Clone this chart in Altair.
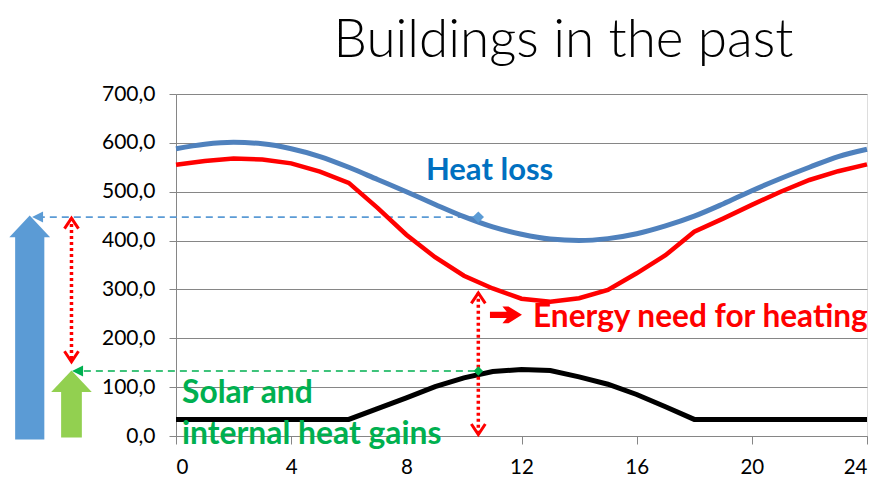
import altair as alt
import pandas as pd

# ---------------- data ----------------
hours = list(range(25))
heat_loss = [588, 597, 601, 598, 588, 572, 550, 525, 500, 474, 449, 428, 413,
             403, 400, 404, 414, 430, 450, 475, 502, 527, 550, 572, 587]
energy_need = [555, 563, 568, 566, 558, 541, 518, 467, 412, 366, 328, 302, 281,
               275, 282, 299, 333, 370, 418, 445, 473, 500, 524, 542, 556]
heat_gains = [34, 34, 34, 34, 34, 34, 34, 56, 78, 101, 119, 132, 136,
              134, 121, 106, 85, 60, 34, 34, 34, 34, 34, 34, 34]

x_ticks = [0, 4, 8, 12, 16, 20, 24]
y_ticks = [0, 100, 200, 300, 400, 500, 600, 700]

title_text = "Buildings in the past"
label_loss = "Heat loss"
label_need = "Energy need for heating"
label_gains = ["Solar and", "internal heat gains"]

# annotation anchors (hours / W values)
marker_hour = 10.5
marker_loss = 448
marker_gain = 133
loss_arrow_x = -5.08
gain_arrow_x = -3.63

# ---------------- helpers ----------------
X = alt.X("x:Q", scale=alt.Scale(domain=[0, 24], nice=False, zero=False),
          axis=alt.Axis(values=x_ticks, title=None, grid=False, tickSize=8,
                        labelPadding=13, labelFontSize=20.5, labelFont="Lato",
                        labelColor="black", domainColor="#868686",
                        tickColor="#868686"))
Y = alt.Y("y:Q", scale=alt.Scale(domain=[0, 700], nice=False),
          axis=alt.Axis(values=y_ticks, title=None, grid=True, tickSize=7,
                        labelPadding=14, labelFontSize=21, labelFont="Lato",
                        labelColor="black", gridColor="#868686",
                        domainColor="#868686", tickColor="#868686",
                        labelExpr="replace(format(datum.value, '.1f'), '.', ',')"))


def df(**cols):
    return pd.DataFrame(cols)


HEAD_UP = "M-1,0L1,0L0,-1.06Z"
CHEV_UP = "M-1,1.5L0,0L1,1.5"
CHEV_DOWN = "M-1,-1.5L0,0L1,-1.5"
TRI_LEFT = "M0,0L2,-1L2,1Z"
BOLD_RIGHT = ("M-1,-0.2L0.05,-0.2L-0.22,-0.52L0.16,-0.52L1,0L0.16,0.52"
              "L-0.22,0.52L0.05,0.2L-1,0.2Z")

# dashed guide lines
blue_dash = alt.Chart(df(x=[-4.8], x2=[marker_hour], y=[marker_loss])).mark_rule(
    color="#5B9BD5", strokeDash=[7, 5], strokeWidth=1.6).encode(x=X, x2="x2:Q", y=Y)
green_dash = alt.Chart(df(x=[-3.2], x2=[marker_hour], y=[marker_gain])).mark_rule(
    color="#00B050", strokeDash=[7, 5], strokeWidth=1.6).encode(x=X, x2="x2:Q", y=Y)

# series
loss_line = alt.Chart(df(x=hours, y=heat_loss)).mark_line(
    color="#4F81BD", strokeWidth=5, interpolate="monotone").encode(x=X, y=Y)
need_line = alt.Chart(df(x=hours, y=energy_need)).mark_line(
    color="#FF0000", strokeWidth=4.5).encode(x=X, y=Y)
gain_line = alt.Chart(df(x=hours, y=heat_gains)).mark_line(
    color="black", strokeWidth=5).encode(x=X, y=Y)

# red dotted double arrows
dotted = alt.Chart(df(x=[gain_arrow_x, marker_hour], y=[446, 293], y2=[152, 3])).mark_rule(
    color="#FF0000", strokeDash=[3, 3], strokeWidth=3.5).encode(x=X, y=Y, y2="y2:Q")
chev_up = alt.Chart(df(x=[gain_arrow_x, marker_hour], y=[446, 293])).mark_point(
    shape=CHEV_UP, size=196, filled=False, color="#FF0000", strokeWidth=3,
    opacity=1).encode(x=X, y=Y)
chev_down = alt.Chart(df(x=[gain_arrow_x, marker_hour], y=[152, 3])).mark_point(
    shape=CHEV_DOWN, size=196, filled=False, color="#FF0000", strokeWidth=3,
    opacity=1).encode(x=X, y=Y)

# block arrows on the left
loss_shaft = alt.Chart(df(x=[loss_arrow_x - 0.507], x2=[loss_arrow_x + 0.507],
                          y=[-7], y2=[408])).mark_rect(color="#5B9BD5").encode(
    x=X, x2="x2:Q", y=Y, y2="y2:Q")
loss_head = alt.Chart(df(x=[loss_arrow_x], y=[407])).mark_point(
    shape=HEAD_UP, size=1665, filled=True, color="#5B9BD5", opacity=1,
    strokeWidth=0).encode(x=X, y=Y)
gain_shaft = alt.Chart(df(x=[gain_arrow_x - 0.36], x2=[gain_arrow_x + 0.36],
                          y=[-3], y2=[91])).mark_rect(color="#92D050").encode(
    x=X, x2="x2:Q", y=Y, y2="y2:Q")
gain_head = alt.Chart(df(x=[gain_arrow_x], y=[90])).mark_point(
    shape=HEAD_UP, size=1650, filled=True, color="#92D050", opacity=1,
    strokeWidth=0).encode(x=X, y=Y)

# small arrow heads on dashed lines
blue_tri = alt.Chart(df(x=[-5.0], y=[marker_loss])).mark_point(
    shape=TRI_LEFT, size=121, filled=True, color="#5B9BD5", opacity=1,
    strokeWidth=0).encode(x=X, y=Y)
green_tri = alt.Chart(df(x=[-3.61], y=[marker_gain])).mark_point(
    shape=TRI_LEFT, size=121, filled=True, color="#00B050", opacity=1,
    strokeWidth=0).encode(x=X, y=Y)

# diamonds
blue_diamond = alt.Chart(df(x=[marker_hour], y=[marker_loss])).mark_point(
    shape="diamond", size=130, filled=True, color="#5B9BD5", opacity=1).encode(x=X, y=Y)
green_diamond = alt.Chart(df(x=[marker_hour], y=[marker_gain])).mark_point(
    shape="diamond", size=90, filled=True, color="#00B050", opacity=1).encode(x=X, y=Y)

# bold red arrow before the label
red_arrow = alt.Chart(df(x=[11.46], y=[248])).mark_point(
    shape=BOLD_RIGHT, size=1024, filled=True, color="#FF0000", opacity=1,
    strokeWidth=0).encode(x=X, y=Y)

# labels
txt_loss = alt.Chart(df(x=[8.68], y=[525], t=[label_loss])).mark_text(
    font="Lato", fontWeight="bold", fontSize=31, color="#0070C0",
    align="left", baseline="alphabetic").encode(x=X, y=Y, text="t:N")
txt_need = alt.Chart(df(x=[12.4], y=[223], t=[label_need])).mark_text(
    font="Lato", fontWeight="bold", fontSize=31.6, color="#FF0000",
    align="left", baseline="alphabetic").encode(x=X, y=Y, text="t:N")
txt_gain = alt.Chart(df(x=[0.21, 0.21], y=[68, -15.5], t=label_gains)).mark_text(
    font="Lato", fontWeight="bold", fontSize=31.8, color="#00B050",
    align="left", baseline="alphabetic").encode(x=X, y=Y, text="t:N")

chart = alt.layer(
    blue_dash, green_dash,
    loss_line, need_line, gain_line,
    dotted, chev_up, chev_down,
    loss_shaft, loss_head, gain_shaft, gain_head,
    blue_tri, green_tri,
    blue_diamond, green_diamond,
    red_arrow,
    txt_loss, txt_need, txt_gain,
).properties(
    width=691,
    height=342,
    title=alt.Title(title_text, font="Lato", fontSize=53, fontWeight=300,
                    color="black", anchor="middle", frame="group", dx=42,
                    offset=15),
    autosize=alt.AutoSizeParams(type="none"),
    padding={"left": 168, "top": 86, "right": 8, "bottom": 40},
).configure_view(stroke=None).configure(background="white")

chart.save("out.html", embed_options={"renderer": "svg", "actions": False})
